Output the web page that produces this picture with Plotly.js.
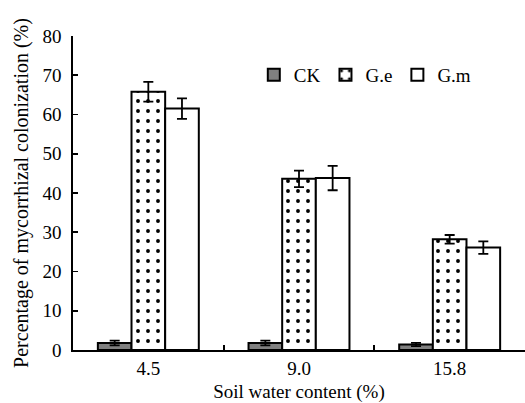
<!DOCTYPE html>
<html>
<head>
<meta charset="utf-8">
<script src="https://cdn.plot.ly/plotly-3.0.1.min.js"></script>
<style>html,body{margin:0;padding:0;background:#fff;}#chart{width:525px;height:403px;}</style>
</head>
<body>
<div id="chart"></div>
<script>
var categories = ['4.5', '9.0', '15.8'];
var ckValues = [1.8, 1.8, 1.4];
var ckErrors = [0.6, 0.6, 0.4];
var geValues = [65.8, 43.6, 28.2];
var geErrors = [2.5, 2.1, 1.1];
var gmValues = [61.5, 43.8, 26.1];
var gmErrors = [2.6, 3.1, 1.6];
var seriesNames = ['CK', 'G.e', 'G.m'];
var yTicks = [0, 10, 20, 30, 40, 50, 60, 70, 80];

var fam = 'Liberation Serif, Times New Roman, serif';
var tickFont = {family: fam, size: 19, color: '#000'};
var xTitleFont = {family: fam, size: 19, color: '#000'};
var yTitleFont = {family: fam, size: 20, color: '#000'};
var legendFont = {family: fam, size: 19, color: '#000'};
var err = function (arr) {
  return {type: 'data', array: arr, visible: true, color: '#000', thickness: 1.8, width: 5};
};

var traces = [
  {type: 'bar', name: seriesNames[0], x: categories, y: ckValues, error_y: err(ckErrors),
   marker: {color: '#808080', line: {color: '#000', width: 2}}},
  {type: 'bar', name: seriesNames[1], x: categories, y: geValues, error_y: err(geErrors),
   marker: {color: '#fff', line: {color: '#000', width: 2},
            pattern: {shape: '.', fgcolor: '#000', fgopacity: 1, bgcolor: '#fff', size: 10, solidity: 0.12, fillmode: 'replace'}}},
  {type: 'bar', name: seriesNames[2], x: categories, y: gmValues, error_y: err(gmErrors),
   marker: {color: '#fff', line: {color: '#000', width: 2}}}
];

var layout = {
  width: 525, height: 403,
  margin: {l: 73, r: 0, t: 36, b: 53},
  paper_bgcolor: '#fff', plot_bgcolor: '#fff',
  font: tickFont,
  barmode: 'group',
  bargap: 0.33,
  bargroupgap: 0,
  showlegend: true,
  legend: {orientation: 'h', x: 0.40, y: 0.876, xanchor: 'left', yanchor: 'middle',
           font: legendFont, bgcolor: 'rgba(0,0,0,0)', itemwidth: 30, traceorder: 'normal'},
  xaxis: {
    type: 'category', showline: true, linecolor: '#000', linewidth: 1.8,
    ticks: 'inside', tickson: 'boundaries', ticklen: 5, tickcolor: '#000', tickwidth: 1.8,
    showgrid: false, zeroline: false, tickfont: tickFont,
    title: {text: 'Soil water content (%)', font: xTitleFont, standoff: 7}
  },
  yaxis: {
    range: [0, 80], tickvals: yTicks, ticktext: yTicks.map(String),
    showline: true, linecolor: '#000', linewidth: 1.8,
    ticks: 'inside', ticklen: 5, tickcolor: '#000', tickwidth: 1.8,
    showgrid: false, zeroline: false, tickfont: tickFont, ticklabelstandoff: 6,
    title: {text: 'Percentage of mycorrhizal colonization (%)', font: yTitleFont, standoff: 8}
  }
};

Plotly.newPlot('chart', traces, layout, {displayModeBar: false, staticPlot: true});
</script>
</body>
</html>
